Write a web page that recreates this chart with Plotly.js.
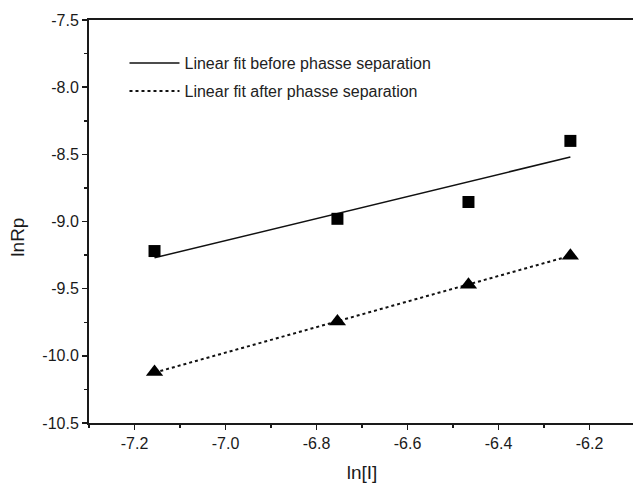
<!DOCTYPE html>
<html>
<head>
<meta charset="utf-8">
<script src="https://cdn.plot.ly/plotly-3.0.1.min.js"></script>
<style>
html,body{margin:0;padding:0;overflow:hidden;background:#fff;}
#chart{width:636px;height:483px;}
</style>
</head>
<body>
<div id="chart"></div>
<script>
// Data
var lnI = [-7.156, -6.754, -6.466, -6.242];
var lnRpBefore = [-9.22, -8.98, -8.855, -8.40];
var lnRpAfter = [-10.12, -9.745, -9.47, -9.255];
var fitBeforeX = [-7.156, -6.242];
var fitBeforeY = [-9.27, -8.52];
var fitAfterX = [-7.156, -6.242];
var fitAfterY = [-10.125, -9.255];
var legendNames = ['Linear fit before phasse separation', 'Linear fit after phasse separation'];
var xTickVals = [-7.2, -7.0, -6.8, -6.6, -6.4, -6.2];
var xTickText = ['-7.2', '-7.0', '-6.8', '-6.6', '-6.4', '-6.2'];
var yTickVals = [-10.5, -10.0, -9.5, -9.0, -8.5, -8.0, -7.5];
var yTickText = ['-10.5', '-10.0', '-9.5', '-9.0', '-8.5', '-8.0', '-7.5'];
var xTitle = 'ln[I]';
var yTitle = 'lnRp';

var axisColor = '#1a1a1a';
var fontFam = '"Liberation Sans", Arial, sans-serif';

var traces = [
  {x: fitBeforeX, y: fitBeforeY, mode: 'lines', name: legendNames[0], legendgroup: 'a',
   line: {color: '#111', width: 1.5}},
  {x: fitAfterX, y: fitAfterY, mode: 'lines', name: legendNames[1], legendgroup: 'b',
   line: {color: '#111', width: 2, dash: 'dot'}},
  {x: lnI, y: lnRpBefore, mode: 'markers', showlegend: false, name: 'before',
   marker: {symbol: 'square', size: 12, color: '#000'}},
  {x: lnI, y: lnRpAfter, mode: 'markers', showlegend: false, name: 'after',
   marker: {symbol: 'triangle-up', size: 15, color: '#000'}}
];

var layout = {
  width: 636, height: 483,
  margin: {l: 89, r: 1, t: 20, b: 60},
  paper_bgcolor: '#fff', plot_bgcolor: '#fff',
  font: {family: fontFam, color: axisColor},
  showlegend: true,
  legend: {x: 0.065, y: 0.935, xanchor: 'left', yanchor: 'top', bgcolor: 'rgba(0,0,0,0)',
           font: {size: 16, family: fontFam, color: '#222'}, itemwidth: 50, tracegroupgap: 4},
  xaxis: {
    range: [-7.3, -6.1], tickmode: 'array', tickvals: xTickVals, ticktext: xTickText,
    ticks: 'outside', ticklen: 5, tickwidth: 1.5, tickcolor: axisColor,
    minor: {tick0: -7.3, dtick: 0.1, ticks: 'outside', ticklen: 3, tickwidth: 1.5, tickcolor: axisColor},
    showline: true, linecolor: axisColor, linewidth: 2, mirror: true,
    showgrid: false, zeroline: false,
    tickfont: {size: 16, family: fontFam, color: axisColor},
    title: {text: xTitle, font: {size: 19, family: fontFam, color: axisColor}, standoff: 22}
  },
  yaxis: {
    range: [-10.5, -7.5], tickmode: 'array', tickvals: yTickVals, ticktext: yTickText,
    ticks: 'outside', ticklen: 5, tickwidth: 1.5, tickcolor: axisColor,
    minor: {tick0: -10.5, dtick: 0.25, ticks: 'outside', ticklen: 3, tickwidth: 1.5, tickcolor: axisColor},
    showline: true, linecolor: axisColor, linewidth: 2, mirror: true,
    showgrid: false, zeroline: false,
    tickfont: {size: 16, family: fontFam, color: axisColor}
  },
  annotations: [{
    text: yTitle, xref: 'paper', yref: 'paper', x: -0.130, y: 0.46,
    xanchor: 'center', yanchor: 'middle', textangle: -90, showarrow: false,
    font: {size: 19, family: fontFam, color: axisColor}
  }]
};

Plotly.newPlot('chart', traces, layout, {displayModeBar: false, staticPlot: true});
</script>
</body>
</html>
